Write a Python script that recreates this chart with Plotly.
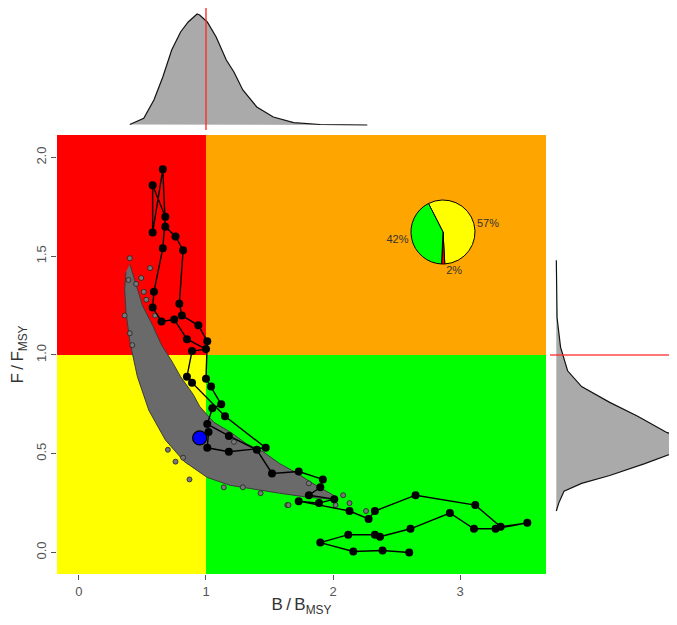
import plotly.graph_objects as go

# ---------------- data ----------------
# Stock trajectory (time order), B/Bmsy and F/Fmsy
traj_b = [2.60, 2.39, 2.16, 1.90, 2.12, 2.33, 2.37, 2.61, 2.92, 3.11, 3.28, 3.53, 3.32, 3.12,
          2.65, 2.33, 2.28, 2.13, 1.73, 1.89, 2.01, 1.81, 1.90, 1.92, 1.73, 1.52, 1.40, 1.18,
          1.01, 1.05, 1.12, 1.04, 1.00, 1.01, 0.94, 0.81, 0.79, 0.82, 0.76, 0.68, 0.66, 0.58,
          0.58, 0.68, 0.66, 0.59, 0.58, 0.65, 0.75, 0.85, 1.00, 0.89, 0.85, 0.89, 1.15, 1.47,
          1.18, 1.01, 1.02, 0.95]
traj_f = [0.00, 0.01, 0.005, 0.05, 0.09, 0.09, 0.08, 0.12, 0.20, 0.12, 0.12, 0.15, 0.13, 0.24,
          0.29, 0.21, 0.17, 0.21, 0.26, 0.25, 0.27, 0.29, 0.33, 0.37, 0.41, 0.40, 0.52, 0.59,
          0.65, 0.73, 0.75, 0.84, 0.88, 1.07, 1.15, 1.20, 1.26, 1.53, 1.60, 1.65, 1.94, 1.62,
          1.86, 1.70, 1.54, 1.32, 1.24, 1.17, 1.18, 1.08, 1.03, 1.02, 0.89, 0.86, 0.69, 0.53,
          0.51, 0.53, 0.61, 0.58]

# Final-year estimate
last_b = [0.95]
last_f = [0.58]

# Outline of the dense posterior cloud (B/Bmsy, F/Fmsy)
cloud_b = [0.40, 0.45, 0.50, 0.58, 0.65, 0.73, 0.80, 0.90, 0.95, 1.06, 1.19, 1.32, 1.45, 1.58,
           1.72, 1.84, 1.92, 2.03, 1.98, 1.80, 1.58, 1.37, 1.19, 1.01, 0.83, 0.68, 0.55,
           0.46, 0.40, 0.37, 0.36, 0.37]
cloud_f = [1.46, 1.35, 1.25, 1.15, 1.05, 0.97, 0.89, 0.80, 0.74, 0.66, 0.61, 0.55, 0.51, 0.45,
           0.40, 0.35, 0.32, 0.28, 0.27, 0.28, 0.30, 0.32, 0.34, 0.38, 0.46, 0.57, 0.72,
           0.89, 1.07, 1.22, 1.33, 1.42]

# Scattered posterior draws outside the dense core
scat_b = [0.40, 0.56, 0.49, 0.39, 0.45, 0.51, 0.53, 0.40, 0.60, 0.82, 0.87, 1.14, 1.29, 1.43,
          1.64, 2.02, 2.13, 2.26, 1.65, 1.22, 1.81, 0.36, 0.42, 0.70, 0.76, 2.08]
scat_f = [1.49, 1.44, 1.39, 1.38, 1.36, 1.32, 1.28, 1.11, 1.20, 0.48, 0.37, 0.33, 0.33, 0.30,
          0.24, 0.24, 0.25, 0.21, 0.24, 0.56, 0.35, 1.20, 1.05, 0.52, 0.46, 0.29]

# Marginal density of B/Bmsy (relative height)
dens_b_x = [0.40, 0.51, 0.59, 0.66, 0.73, 0.80, 0.86, 0.93, 0.95, 1.01, 1.08, 1.16, 1.22, 1.29,
            1.40, 1.53, 1.69, 1.90, 2.27]
dens_b_y = [0.5, 6.7, 25, 48, 75, 93, 103, 111, 110, 103, 88, 65, 53, 35, 18, 8, 2.3, 0.5, 0]

# Marginal density of F/Fmsy (relative height)
dens_f_y = [1.48, 1.19, 1.04, 0.92, 0.84, 0.76, 0.69, 0.61, 0.57, 0.51, 0.45, 0.39, 0.35, 0.31,
            0.25, 0.21]
dens_f_x = [0, 0.7, 4, 10.7, 24, 50.7, 77.3, 104, 123, 114, 84, 50.7, 24, 7.3, 2.3, 0]

# Kobe quadrant shares
pie_labels = ["57%", "2%", "42%"]
pie_values = [56.6, 1.6, 41.8]
pie_colors = ["#ffff00", "#ff0000", "#00ff00"]

x_ticks = [0, 1, 2, 3]
y_ticks = [0, 0.5, 1, 1.5, 2]
y_ticktext = ["0.0", "0.5", "1.0", "1.5", "2.0"]

x_range = [-0.173, 3.677]
y_range = [-0.109, 2.114]

# ---------------- figure ----------------
# the page body has an 8px margin, so the figure is drawn 8px in from the window corner
OFF = 8
W, H = 661, 609


def px_x(p):
    return (p - OFF) / W


def px_y(p):
    return 1 - (p - OFF) / H


fig = go.Figure()

main_xd = [px_x(57), px_x(546)]
main_yd = [px_y(574), px_y(135)]

# quadrants
quads = [
    (x_range[0], 1, 1, y_range[1], "#ff0000"),
    (1, x_range[1], 1, y_range[1], "#ffa500"),
    (x_range[0], 1, y_range[0], 1, "#ffff00"),
    (1, x_range[1], y_range[0], 1, "#00ff00"),
]
for x0, x1, y0, y1, c in quads:
    fig.add_shape(type="rect", xref="x", yref="y", x0=x0, x1=x1, y0=y0, y1=y1,
                  fillcolor=c, line_width=0, layer="below")

# posterior cloud
fig.add_trace(go.Scatter(x=cloud_b, y=cloud_f, mode="lines", fill="toself",
                         fillcolor="#6a6a6a", line=dict(color="#3c3c3c", width=1),
                         hoverinfo="skip", showlegend=False))
fig.add_trace(go.Scatter(x=scat_b, y=scat_f, mode="markers",
                         marker=dict(size=5, color="#777777", line=dict(color="#222222", width=0.8)),
                         showlegend=False))
# trajectory
fig.add_trace(go.Scatter(x=traj_b, y=traj_f, mode="lines+markers",
                         line=dict(color="black", width=1.4),
                         marker=dict(size=8, color="black"), showlegend=False))
fig.add_trace(go.Scatter(x=last_b, y=last_f, mode="markers",
                         marker=dict(size=14, color="#0000ff", line=dict(color="black", width=1.2)),
                         showlegend=False))

# top density
fig.add_trace(go.Scatter(x=dens_b_x, y=dens_b_y, mode="lines", fill="toself",
                         fillcolor="#aaaaaa", line=dict(color="#111111", width=1.2),
                         xaxis="x2", yaxis="y2", showlegend=False))
fig.add_trace(go.Scatter(x=[1, 1], y=[-5, 117], mode="lines",
                         line=dict(color="rgba(255,40,40,0.85)", width=1.6),
                         xaxis="x2", yaxis="y2", showlegend=False))

# right density
fig.add_trace(go.Scatter(x=dens_f_x, y=dens_f_y, mode="lines", fill="toself",
                         fillcolor="#aaaaaa", line=dict(color="#111111", width=1.2),
                         xaxis="x3", yaxis="y3", showlegend=False))
fig.add_trace(go.Scatter(x=[-6, 130], y=[1, 1], mode="lines",
                         line=dict(color="rgba(255,40,40,0.85)", width=1.6),
                         xaxis="x3", yaxis="y3", showlegend=False))

# pie
cx, cy, r = 443, 232, 32
fig.add_trace(go.Pie(values=pie_values, text=pie_labels, textinfo="text",
                     textposition="outside", sort=False, direction="clockwise",
                     rotation=-27,
                     marker=dict(colors=pie_colors, line=dict(color="black", width=1)),
                     textfont=dict(size=11, color="#333333", family="Liberation Sans, Arial"),
                     domain=dict(x=[px_x(cx - r), px_x(cx + r)], y=[px_y(cy + r), px_y(cy - r)]),
                     showlegend=False, hoverinfo="skip"))

axis_font = dict(family="Liberation Sans, Arial", size=13, color="#555555")
title_font = dict(family="Liberation Sans, Arial", size=17, color="#333333")

fig.update_layout(
    width=W, height=H,
    margin=dict(l=0, r=0, t=0, b=0),
    paper_bgcolor="white", plot_bgcolor="white",
    xaxis=dict(domain=main_xd, range=x_range, tickvals=x_ticks, ticks="outside", ticklen=5,
               tickcolor="#555555", tickfont=axis_font, showgrid=False, zeroline=False,
               showline=False, automargin=False,
               title=dict(text="B\u2009/\u2009B<sub>MSY</sub>", font=title_font, standoff=1)),
    yaxis=dict(domain=main_yd, range=y_range, tickvals=y_ticks, ticktext=y_ticktext,
               tickangle=-90, ticks="outside", ticklen=5, tickcolor="#555555",
               tickfont=axis_font, showgrid=False, zeroline=False, showline=False,
               automargin=False,
               title=dict(text="F\u2009/\u2009F<sub>MSY</sub>", font=title_font, standoff=6)),
    xaxis2=dict(domain=main_xd, range=x_range, visible=False, anchor="y2"),
    yaxis2=dict(domain=[px_y(130), px_y(8)], range=[-5, 117], visible=False, anchor="x2"),
    xaxis3=dict(domain=[px_x(550), 1.0], range=[-6, 107], visible=False, anchor="y3"),
    yaxis3=dict(domain=main_yd, range=y_range, visible=False, anchor="x3"),
)

fig.write_html("out.html")
